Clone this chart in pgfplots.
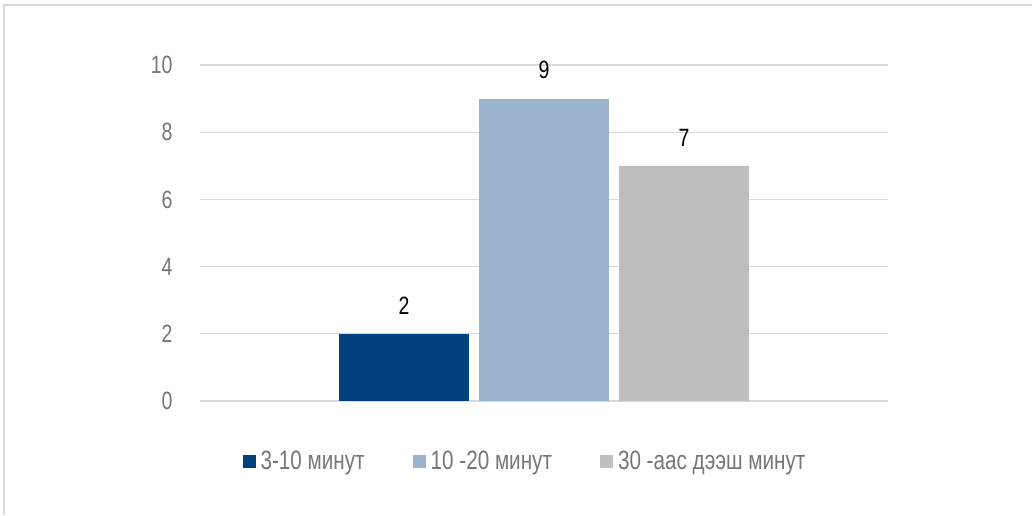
\documentclass[border=0pt]{standalone}
\usepackage{pgfplots}
\pgfplotsset{compat=1.18}
\usepackage{fontspec}
\setmainfont{Liberation Sans}[FakeStretch=0.78]
\definecolor{barA}{RGB}{0,65,128}
\definecolor{barB}{RGB}{155,179,205}
\definecolor{barC}{RGB}{190,190,192}
\definecolor{gridc}{RGB}{217,217,217}
\definecolor{tickc}{RGB}{118,118,118}
\begin{document}
\begin{tikzpicture}[x=1pt,y=1pt]
\useasboundingbox (0,0) rectangle (1032,515);
\draw[gridc,line width=1.2pt] (4,0) -- (4,510) -- (1032,510);
\begin{axis}[
  at={(200pt,114pt)}, anchor=south west,
  scale only axis, width=688pt, height=336pt,
  ybar=10pt, bar width=130pt,
  xmin=-1, xmax=1, ymin=0, ymax=10,
  xtick=\empty,
  ytick={0,2,4,6,8,10},
  ymajorgrids, grid style={gridc,line width=1.2pt},
  axis line style={draw=none},
  major tick length=0pt,
  yticklabel style={font=\fontsize{25}{28}\selectfont, text=tickc, xshift=-24pt},
  /pgf/number format/assume math mode=true,
  nodes near coords,
  every node near coord/.append style={font=\fontsize{25}{28}\selectfont, text=black, yshift=16pt},
  legend style={at={(325pt,-60pt)}, anchor=center, draw=none, fill=none,
    font=\fontsize{26.5}{29}\selectfont, text=tickc, legend columns=3,
    /tikz/every even column/.append style={column sep=46pt}},
  legend image code/.code={\fill[#1] (0pt,-6.5pt) rectangle (13pt,6.5pt); \path (16pt,0pt);},
]
\addplot[fill=barA, draw=none] coordinates {(0,2)};
\addplot[fill=barB, draw=none] coordinates {(0,9)};
\addplot[fill=barC, draw=none] coordinates {(0,7)};
\legend{3-10 минут, 10 -20 минут, 30 -аас дээш минут}
\end{axis}
\end{tikzpicture}
\end{document}
